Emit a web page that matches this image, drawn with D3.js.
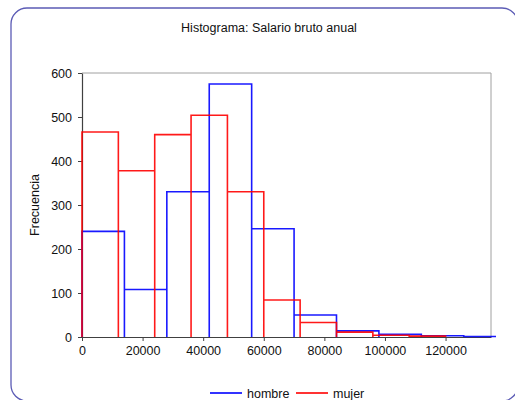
<!DOCTYPE html>
<html>
<head>
<meta charset="utf-8">
<script src="https://cdn.jsdelivr.net/npm/d3@7"></script>
<style>
  body { margin: 0; background: #fff; }
  svg { display: block; font-family: "Liberation Sans", Arial, sans-serif; }
</style>
</head>
<body>
<svg id="chart" width="515" height="400"></svg>
<script>
// bin edges (salario) and frequencies
var hombreEdges = [0, 14000, 28000, 42000, 56000, 70000, 84000, 98000, 112000, 126000, 140000];
var hombreFreq  = [240, 108, 330, 575, 246, 50, 14, 6, 3, 1];

var mujerEdges = [0, 12000, 24000, 36000, 48000, 60000, 72000, 84000, 96000, 108000, 120000];
var mujerFreq  = [466, 378, 460, 504, 330, 84, 33, 11, 4, 2];

var xTicks = [0, 20000, 40000, 60000, 80000, 100000, 120000];
var yTicks = [0, 100, 200, 300, 400, 500, 600];

var series = [
  {name: "hombre", edges: hombreEdges, freq: hombreFreq, color: "#0000ff"},
  {name: "mujer",  edges: mujerEdges,  freq: mujerFreq,  color: "#ff0000"}
];

var margin = {top: 73, left: 82},
    width = 409,
    height = 264;

var svg = d3.select("#chart");

// outer frame with rounded corners
svg.append("rect")
   .attr("x", 11).attr("y", 8)
   .attr("width", 507).attr("height", 393)
   .attr("rx", 16).attr("ry", 16)
   .attr("fill", "none")
   .attr("stroke", "#5b5bb5")
   .attr("stroke-width", 1.3);

// title
svg.append("text")
   .attr("x", 269).attr("y", 32)
   .attr("text-anchor", "middle")
   .style("font-size", "12.5px")
   .attr("fill", "#111")
   .text("Histograma: Salario bruto anual");

var g = svg.append("g").attr("transform", "translate(" + margin.left + "," + margin.top + ")");

var x = d3.scaleLinear().domain([0, 135000]).range([0, width]);
var y = d3.scaleLinear().domain([0, 600]).range([height, 0]);

// top and right border of plot area
g.append("path")
 .attr("d", "M0,0H" + width + "V" + height)
 .attr("fill", "none")
 .attr("stroke", "#a0a0a0")
 .attr("stroke-width", 1);

// axes
var xAxis = g.append("g")
  .attr("transform", "translate(0," + height + ")")
  .call(d3.axisBottom(x).tickValues(xTicks).tickSize(4).tickSizeOuter(0).tickFormat(d3.format("d")));

var yAxis = g.append("g")
  .call(d3.axisLeft(y).tickValues(yTicks).tickSize(4).tickSizeOuter(0));

[xAxis, yAxis].forEach(function(a){
  a.select(".domain").attr("stroke", "#404040").attr("stroke-width", 1.2);
  a.selectAll(".tick line").attr("stroke", "#404040");
  a.selectAll("text")
   .style("font-size", "12.5px")
   .style("font-family", "'Liberation Sans', Arial, sans-serif")
   .attr("fill", "#111");
});
xAxis.selectAll("text").attr("dy", "1.05em").attr("y", 5);
yAxis.selectAll("text").attr("x", -10);

// y axis title
svg.append("text")
   .attr("transform", "translate(39," + (margin.top + height / 2) + ") rotate(-90)")
   .attr("text-anchor", "middle")
   .style("font-size", "12.5px")
   .attr("fill", "#111")
   .text("Frecuencia");

// clip slightly past the right border (last blue bin runs a bit over it)
svg.append("clipPath").attr("id", "clip")
   .append("rect").attr("x", -2).attr("y", -2).attr("width", width + 7).attr("height", height + 4);

// one outline (left, top, right) per bin
function binPath(s){
  var d = "";
  s.freq.forEach(function(v, i){
    d += "M" + x(s.edges[i]) + "," + y(0) +
         "V" + y(v) +
         "H" + x(s.edges[i + 1]) +
         "V" + y(0);
  });
  return d;
}

g.append("g").attr("clip-path", "url(#clip)")
 .selectAll("path.bins")
 .data(series)
 .enter()
 .append("path")
   .attr("class", "bins")
   .attr("d", binPath)
   .attr("fill", "none")
   .attr("stroke", function(d){ return d.color; })
   .attr("stroke-width", 1.6)
   .attr("stroke-opacity", 0.9);

// legend
var legend = svg.append("g").attr("transform", "translate(210,393)");
var lx = [0, 86];
series.forEach(function(s, i){
  legend.append("line")
        .attr("x1", lx[i]).attr("x2", lx[i] + 32)
        .attr("y1", 0).attr("y2", 0)
        .attr("stroke", s.color)
        .attr("stroke-width", 1.6);
  legend.append("text")
        .attr("x", lx[i] + 37).attr("y", 4.5)
        .style("font-size", "12.5px")
        .attr("fill", "#111")
        .text(s.name);
});
</script>
</body>
</html>
